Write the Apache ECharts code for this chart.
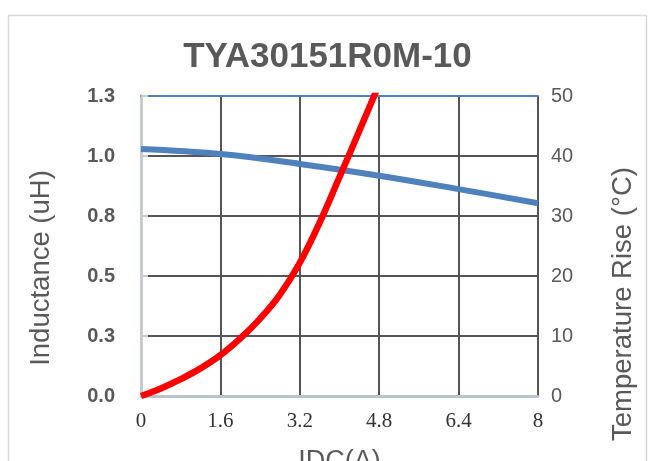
<!DOCTYPE html>
<html>
<head>
<meta charset="utf-8">
<script src="https://cdn.jsdelivr.net/npm/echarts@6/dist/echarts.min.js"></script>
<style>html,body{margin:0;padding:0;background:#fff;}#c{width:655px;height:461px;}</style>
</head>
<body>
<div id="c"></div>
<script>
// ---- data ----
const chartTitle = 'TYA30151R0M-10';
const xTicks = [0, 1.6, 3.2, 4.8, 6.4, 8];
const inductanceX = [0, 1.6, 3.2, 4.8, 6.4, 8];
const inductanceY = [1.029, 1.008, 0.967, 0.918, 0.862, 0.803];
const tempX = [0, 0.4, 0.8, 1.2, 1.6, 2.0, 2.4, 2.8, 3.2, 3.6, 4.0, 4.4, 4.8];
const tempY = [0, 1.25, 2.8, 4.6, 6.8, 9.6, 12.9, 16.9, 22.2, 28.9, 36.5, 44.2, 52.0];
const leftTicks = [0, 0.25, 0.5, 0.75, 1.0, 1.25];
const rightTicks = [0, 10, 20, 30, 40, 50];

const chart = echarts.init(document.getElementById('c'), null, {renderer: 'canvas'});
const gray = '#595959';
const option = {
  animation: false,
  backgroundColor: '#fff',
  title: {
    text: chartTitle, left: 'center', top: 35,
    textStyle: {fontFamily: 'Liberation Sans', fontWeight: 'bold', fontSize: 35, color: gray}
  },
  graphic: [{
    type: 'rect', shape: {x: 8.5, y: 15.5, width: 638, height: 470},
    style: {fill: 'none', stroke: '#d9d9d9', lineWidth: 1.5}, silent: true
  }],
  grid: {left: 141, right: 117, top: 96, bottom: 65, outerBoundsMode: 'none', containLabel: false},
  xAxis: [{
    type: 'value', min: 0, max: 8, interval: 1.6, position: 'bottom',
    name: 'IDC(A)', nameLocation: 'middle', nameGap: 52,
    nameTextStyle: {fontFamily: 'Liberation Sans', fontSize: 27, color: gray},
    axisLine: {show: true, lineStyle: {color: '#b8c3d0', width: 3}},
    axisTick: {show: false},
    axisLabel: {fontFamily: 'Liberation Serif', fontSize: 21, color: '#333', margin: 15,
      formatter: v => xTicks.includes(+v.toFixed(1)) ? String(+v.toFixed(1)) : ''},
    splitLine: {show: true, lineStyle: {color: '#555', width: 2}}
  }, {
    type: 'value', min: 0, max: 8, position: 'top',
    axisLine: {show: true, onZero: false, lineStyle: {color: '#4f81bd', width: 2}},
    axisTick: {show: false}, axisLabel: {show: false}, splitLine: {show: false}
  }],
  yAxis: [{
    type: 'value', min: leftTicks[0], max: leftTicks[leftTicks.length - 1], interval: 0.25,
    name: 'Inductance (uH)', nameLocation: 'middle', nameGap: 86, nameRotate: 90,
    nameTextStyle: {fontFamily: 'Liberation Sans', fontSize: 27.5, color: gray, padding: [0, 44, 0, 0]},
    axisLine: {show: true, lineStyle: {color: '#b8c3d0', width: 3}},
    axisTick: {show: false},
    axisLabel: {fontFamily: 'Liberation Sans', fontWeight: 'bold', fontSize: 20, color: gray, margin: 26,
      formatter: v => v.toFixed(1)},
    splitLine: {show: true, lineStyle: {color: '#555', width: 2}}
  }, {
    type: 'value', min: rightTicks[0], max: rightTicks[rightTicks.length - 1], interval: 10,
    position: 'right',
    name: 'Temperature Rise (°C)', nameLocation: 'middle', nameGap: 71, nameRotate: 90,
    nameTextStyle: {fontFamily: 'Liberation Sans', fontSize: 27.5, color: gray, padding: [0, 116, 0, 0]},
    axisLine: {show: true, lineStyle: {color: '#c3ccd8', width: 3}},
    axisTick: {show: true, inside: false, length: 7, lineStyle: {color: '#c8c8c8', width: 2}},
    axisLabel: {fontFamily: 'Liberation Sans', fontSize: 20, color: gray, margin: 13},
    splitLine: {show: false}
  }],
  series: [{
    type: 'line', name: 'Inductance', xAxisIndex: 0, yAxisIndex: 0, smooth: 0.4,
    symbol: 'none', lineStyle: {color: '#4f81bd', width: 6}, clip: true,
    data: inductanceX.map((x, i) => [x, inductanceY[i]])
  }, {
    type: 'line', name: 'Temperature', xAxisIndex: 0, yAxisIndex: 1, smooth: 0.4,
    symbol: 'none', lineStyle: {color: '#ff0000', width: 6.5}, clip: true,
    data: tempX.map((x, i) => [x, tempY[i]])
  }]
};
chart.setOption(option);
</script>
</body>
</html>
